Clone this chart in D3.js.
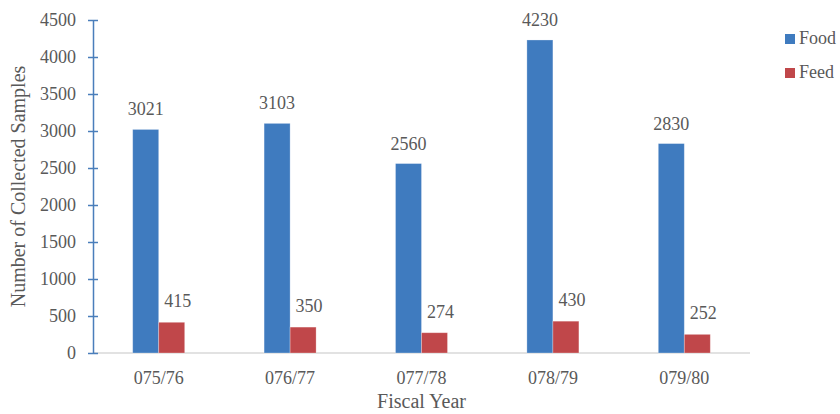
<!DOCTYPE html>
<html>
<head>
<meta charset="utf-8">
<script src="https://cdn.jsdelivr.net/npm/d3@7"></script>
<style>
  body { margin: 0; background: #fff; }
  svg { display: block; font-family: "Liberation Serif", "Times New Roman", serif; }
</style>
</head>
<body>
<svg id="chart" width="840" height="414"></svg>
<script>
// data
const years = ["075/76", "076/77", "077/78", "078/79", "079/80"];
const food = [3021, 3103, 2560, 4230, 2830];
const feed = [415, 350, 274, 430, 252];
const seriesNames = ["Food", "Feed"];
const yTicks = [0, 500, 1000, 1500, 2000, 2500, 3000, 3500, 4000, 4500];

const colors = { Food: "#3f7bbf", Feed: "#c0474a" };
const textColor = "#595959";

const svg = d3.select("#chart");
const margin = { left: 93, right: 90, top: 20, bottom: 61 };
const W = 840, H = 414;

const x = d3.scaleBand().domain(years).range([margin.left, W - margin.right]);
const y = d3.scaleLinear().domain([0, 4500]).range([H - margin.bottom, margin.top]);
const barW = 26;

// baseline
svg.append("line")
  .attr("x1", margin.left).attr("x2", W - margin.right)
  .attr("y1", y(0)).attr("y2", y(0))
  .attr("stroke", "#d9d9d9").attr("stroke-width", 1.5);

// bars, grouped by year
const rows = years.map((yr, i) => ({ year: yr, Food: food[i], Feed: feed[i] }));
const groups = svg.selectAll("g.grp").data(rows).join("g").attr("class", "grp");

seriesNames.forEach((s, k) => {
  groups.append("rect")
    .attr("x", d => x(d.year) + x.bandwidth() / 2 - barW + k * barW)
    .attr("y", d => y(d[s]))
    .attr("width", barW)
    .attr("height", d => y(0) - y(d[s]))
    .attr("fill", colors[s])
    .attr("stroke", "#ffffff").attr("stroke-opacity", 0.35).attr("stroke-width", 0.8);

  groups.append("text")
    .attr("x", d => x(d.year) + x.bandwidth() / 2 - barW / 2 + k * barW + (k ? 6 : 0))
    .attr("y", d => y(d[s]) - (k ? 15 : 14))
    .attr("text-anchor", "middle")
    .attr("fill", textColor)
    .attr("font-size", 18)
    .text(d => d[s]);
});

// y axis (blue line, cross ticks)
const yAxis = d3.axisLeft(y).tickValues(yTicks).tickFormat(d3.format("d"))
  .tickSize(5).tickSizeOuter(0).tickPadding(12);
const gy = svg.append("g").attr("transform", `translate(${margin.left},0)`).call(yAxis);
gy.select(".domain").attr("stroke", "#4a7ebb").attr("stroke-width", 1.5);
gy.selectAll(".tick line").attr("stroke", "#4a7ebb").attr("stroke-width", 1.5).attr("x2", 5).attr("x1", -5);
gy.selectAll(".tick text").attr("fill", textColor).attr("font-size", 18)
  .attr("font-family", "Liberation Serif, serif");

// x axis labels
const xAxis = d3.axisBottom(x).tickSize(0).tickPadding(18);
const gx = svg.append("g").attr("transform", `translate(0,${y(0)})`).call(xAxis);
gx.select(".domain").remove();
gx.selectAll(".tick text").attr("fill", textColor).attr("font-size", 18)
  .attr("font-family", "Liberation Serif, serif");

// axis titles
svg.append("text")
  .attr("x", (margin.left + W - margin.right) / 2).attr("y", 408)
  .attr("text-anchor", "middle").attr("fill", textColor).attr("font-size", 20)
  .text("Fiscal Year");

svg.append("text")
  .attr("transform", `translate(25,${(y(0) + y(4500)) / 2}) rotate(-90)`)
  .attr("text-anchor", "middle").attr("fill", textColor).attr("font-size", 20)
  .text("Number of Collected Samples");

// legend
const legend = svg.selectAll("g.leg").data(seriesNames).join("g").attr("class", "leg")
  .attr("transform", (d, i) => `translate(785,${34 + i * 34})`);
legend.append("rect").attr("width", 10).attr("height", 10).attr("fill", d => colors[d]);
legend.append("text").attr("x", 14).attr("y", 10).attr("fill", textColor)
  .attr("font-size", 18).text(d => d);
</script>
</body>
</html>
